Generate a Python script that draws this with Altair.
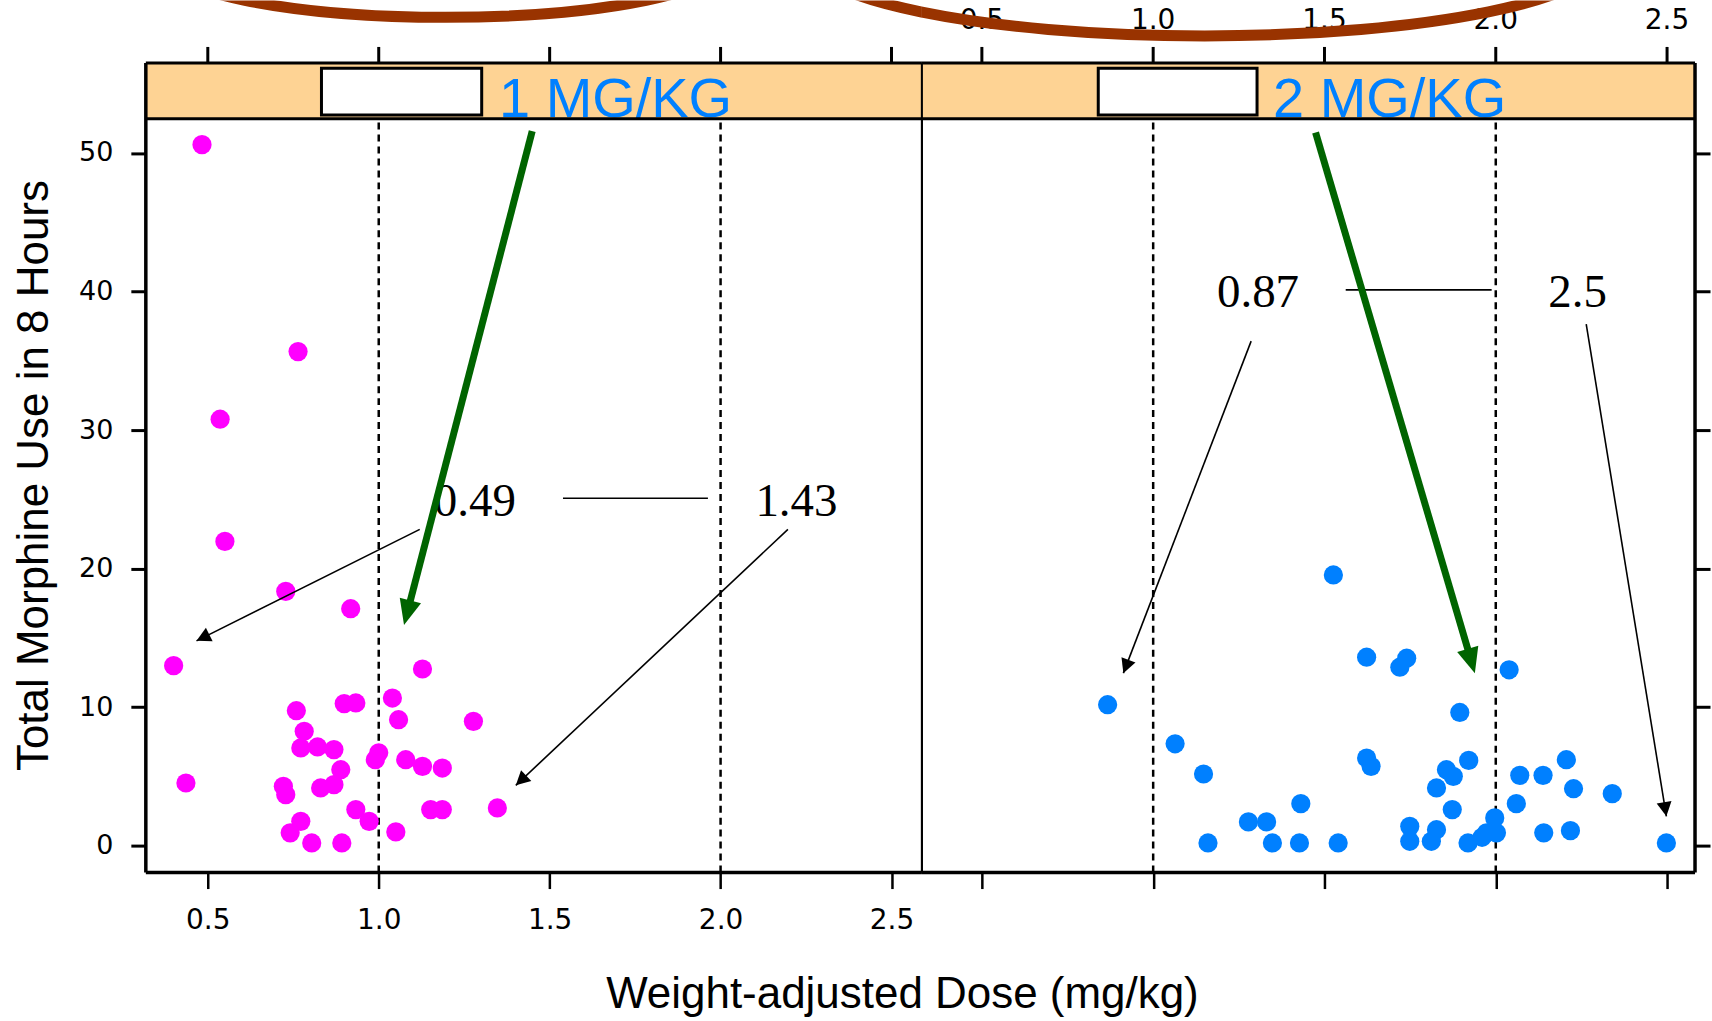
import math
import altair as alt
import pandas as pd

# ---------------- data ----------------
low_dose = [0.483, 0.764, 0.536, 0.550, 0.728, 0.918, 0.400, 1.128, 0.759, 0.899,
            0.933, 1.040, 1.058, 1.277, 0.782, 0.772, 0.821, 0.869, 1.000, 0.990,
            1.079, 1.128, 1.186, 0.436, 0.721, 0.728, 0.830, 0.869, 0.889, 1.347,
            1.152, 1.186, 0.933, 0.972, 0.772, 0.741, 0.804, 0.892, 1.050]
low_use = [50.6, 35.66, 30.78, 21.96, 18.35, 17.1, 12.99, 12.75, 9.74, 10.25,
           10.3, 10.65, 9.09, 8.97, 8.25, 7.05, 7.12, 6.93, 6.7, 6.2,
           6.2, 5.72, 5.6, 4.52, 4.28, 3.68, 4.16, 4.40, 5.48, 2.72,
           2.6, 2.6, 2.6, 1.75, 1.75, 0.92, 0.19, 0.19, 0.99]

high_dose = [0.867, 1.064, 1.147, 1.431, 1.278, 1.331, 1.160, 1.348, 1.427, 1.540,
             1.526, 1.623, 1.740, 1.720, 2.039, 1.895, 1.623, 1.636, 1.921, 1.856,
             1.876, 1.827, 1.873, 1.749, 1.749, 1.827, 1.812, 1.919, 1.997, 2.002,
             1.973, 1.960, 2.070, 2.138, 2.060, 2.206, 2.227, 2.340, 2.140, 2.218, 2.498]
high_use = [10.17, 7.35, 5.17, 3.03, 1.71, 1.71, 0.19, 0.19, 0.19, 0.19,
            19.54, 13.6, 13.53, 12.88, 12.69, 9.61, 6.32, 5.72, 6.15, 5.48,
            5.0, 4.16, 2.6, 1.39, 0.31, 1.15, 0.31, 0.19, 2.0, 0.92,
            0.92, 0.6, 5.07, 5.07, 3.03, 6.2, 4.11, 3.75, 0.92, 1.08, 0.19]

panel_labels = ["1 MG/KG", "2 MG/KG"]
x_ticks = [0.5, 1.0, 1.5, 2.0, 2.5]
x_tick_text = ["0.5", "1.0", "1.5", "2.0", "2.5"]
y_ticks = [0, 10, 20, 30, 40, 50]
ref_lines = [1.0, 2.0]

# annotations (data coordinates)
left_notes = ["0.49", "1.43"]
left_note_x = [1.281, 2.222]
left_note_y = [23.81, 23.81]
left_hline = [1.539, 1.963, 25.07]
left_arrow_start = [(1.120, 22.83), (2.197, 22.83)]
left_arrow_end = [(0.467, 14.78), (1.401, 4.35)]
left_green = [(1.449, 51.57), (1.074, 15.93)]

right_notes = ["0.87", "2.5"]
right_note_x = [1.306, 2.239]
right_note_y = [38.85, 38.85]
right_hline = [1.562, 1.988, 40.12]
right_arrow_start = [(1.286, 36.42), (2.264, 37.64)]
right_arrow_end = [(0.913, 12.45), (2.498, 2.11)]
right_green = [(1.474, 51.47), (1.939, 12.45)]

# ---------------- layout / style ----------------
Y_DOMAIN = [-1.947, 61.0]
H = 873
PLOT_TOP = 52.47
STRIP_TOP = 56.50
XDOM_L = [0.3187, 2.589]
W_L = 777
XDOM_R = [0.325, 2.5816]
W_R = 774
KY = H / (Y_DOMAIN[1] - Y_DOMAIN[0])

PINK = "#FF00FF"
BLUE = "#0080FF"
STRIP = "#FED394"
GREEN = "#006400"
BROWN = "#993300"

THIN_HEAD = "M0,0 L-0.5,0.95 L0.5,0.95 Z"
GREEN_HEAD = "M0,0 L-0.5,1.15 L0.5,1.15 Z"


def ellipse_path(k):
    c = 0.5523
    return (f"M-1,0 C-1,{-c*k:.4f} {-c:.4f},{-k:.4f} 0,{-k:.4f} "
            f"C{c:.4f},{-k:.4f} 1,{-c*k:.4f} 1,0 "
            f"C1,{c*k:.4f} {c:.4f},{k:.4f} 0,{k:.4f} "
            f"C{-c:.4f},{k:.4f} -1,{c*k:.4f} -1,0 Z")


ELLIPSE = ellipse_path(0.205)


def make_panel(side):
    left = side == "left"
    xdom = XDOM_L if left else XDOM_R
    width = W_L if left else W_R
    kx = width / (xdom[1] - xdom[0])
    xs = alt.Scale(domain=xdom, nice=False, zero=False)
    ys = alt.Scale(domain=Y_DOMAIN, nice=False, zero=False)

    if left:
        xaxis = alt.Axis(orient="bottom", values=x_ticks, format=".1f", domain=False, grid=False,
                         tickSize=16, tickWidth=2.5, tickColor="black",
                         labelFont="DejaVu Sans", labelFontSize=28, labelColor="black",
                         labelPadding=18, labelFlush=False,
                         title="Weight-adjusted Dose (mg/kg)", titleFont="Liberation Sans",
                         titleFontSize=44, titleFontWeight="normal", titleColor="black",
                         titleX=757, titleY=135, titleAlign="center", titleBaseline="alphabetic")
        yaxis = alt.Axis(orient="left", values=y_ticks, domain=False, grid=False,
                         tickSize=15, tickWidth=3, tickColor="black",
                         labelFont="DejaVu Sans", labelFontSize=27, labelColor="black",
                         labelPadding=18,
                         title="Total Morphine Use in 8 Hours", titleFont="Liberation Sans",
                         titleFontSize=44, titleFontWeight="normal", titleColor="black",
                         titleAngle=270, titleX=-98, titleY=475, titleAlign="center",
                         titleBaseline="alphabetic")
    else:
        xaxis = alt.Axis(orient="bottom", values=x_ticks, domain=False, grid=False,
                         tickSize=16, tickWidth=2.5, tickColor="black", labels=False, title=None)
        yaxis = alt.Axis(orient="right", values=y_ticks, domain=False, grid=False,
                         tickSize=15, tickWidth=3, tickColor="black", labels=False, title=None)

    def ex(f):
        return alt.X(f"{f}:Q", scale=xs, axis=xaxis)

    def ey(f):
        return alt.Y(f"{f}:Q", scale=ys, axis=yaxis)

    dose = low_dose if left else high_dose
    use = low_use if left else high_use
    color = PINK if left else BLUE
    notes, nx, ny = (left_notes, left_note_x, left_note_y) if left else (right_notes, right_note_x, right_note_y)
    hline = left_hline if left else right_hline
    a_start = left_arrow_start if left else right_arrow_start
    a_end = left_arrow_end if left else right_arrow_end
    green = left_green if left else right_green

    layers = []

    # strip background
    layers.append(alt.Chart(pd.DataFrame({"x": [xdom[0]], "x2": [xdom[1]], "y": [PLOT_TOP], "y2": [STRIP_TOP]}))
                  .mark_rect(color=STRIP).encode(x=ex("x"), x2="x2", y=ey("y"), y2="y2"))

    # dashed reference lines
    layers.append(alt.Chart(pd.DataFrame({"x": ref_lines, "y": [Y_DOMAIN[0]] * 2, "y2": [PLOT_TOP] * 2}))
                  .mark_rule(strokeDash=[7, 5], strokeWidth=2.5, color="black")
                  .encode(x=ex("x"), y=ey("y"), y2="y2"))

    # points
    layers.append(alt.Chart(pd.DataFrame({"x": dose, "y": use}))
                  .mark_circle(size=370, color=color, opacity=1)
                  .encode(x=ex("x"), y=ey("y")))

    # annotation numbers and connecting line
    layers.append(alt.Chart(pd.DataFrame({"x": nx, "y": ny, "t": notes}))
                  .mark_text(font="Liberation Serif", fontSize=47, baseline="alphabetic",
                             align="center", color="black")
                  .encode(x=ex("x"), y=ey("y"), text="t:N"))
    layers.append(alt.Chart(pd.DataFrame({"x": [hline[0]], "x2": [hline[1]], "y": [hline[2]]}))
                  .mark_rule(strokeWidth=1.6, color="black")
                  .encode(x=ex("x"), x2="x2", y=ey("y")))

    # thin arrows
    rows = []
    for (xs0, ys0), (xe, ye) in zip(a_start, a_end):
        ang = (math.degrees(math.atan2((xe - xs0) * kx, (ye - ys0) * KY)) + 360) % 360
        rows.append({"x": xs0, "y": ys0, "x2": xe, "y2": ye, "angle": ang})
    adf = pd.DataFrame(rows)
    layers.append(alt.Chart(adf).mark_rule(strokeWidth=1.6, color="black")
                  .encode(x=ex("x"), y=ey("y"), x2="x2", y2="y2"))
    layers.append(alt.Chart(adf).mark_point(shape=THIN_HEAD, size=900, filled=True, color="black",
                                            opacity=1, strokeWidth=0)
                  .encode(x=ex("x2"), y=ey("y2"), angle=alt.Angle("angle:Q", scale=None)))

    # green arrow
    (gx0, gy0), (gx1, gy1) = green
    dxp, dyp = (gx1 - gx0) * kx, (gy1 - gy0) * KY
    L = math.hypot(dxp, dyp)
    s = 20.0 / L
    gang = (math.degrees(math.atan2(dxp, dyp)) + 360) % 360
    gdf = pd.DataFrame({"x": [gx0], "y": [gy0], "x2": [gx1 - (gx1 - gx0) * s], "y2": [gy1 - (gy1 - gy0) * s],
                        "hx": [gx1], "hy": [gy1], "angle": [gang]})
    layers.append(alt.Chart(gdf).mark_rule(strokeWidth=7, color=GREEN)
                  .encode(x=ex("x"), y=ey("y"), x2="x2", y2="y2"))
    layers.append(alt.Chart(gdf).mark_point(shape=GREEN_HEAD, size=1936, filled=True, color=GREEN,
                                            opacity=1, strokeWidth=0)
                  .encode(x=ex("hx"), y=ey("hy"), angle=alt.Angle("angle:Q", scale=None)))

    # strip white box and label
    bx = [0.8325, 1.3012] if left else [0.8397, 1.3032]
    layers.append(alt.Chart(pd.DataFrame({"x": [bx[0]], "x2": [bx[1]], "y": [52.75], "y2": [56.11]}))
                  .mark_rect(fill="white", stroke="black", strokeWidth=3)
                  .encode(x=ex("x"), x2="x2", y=ey("y"), y2="y2"))
    lx = 1.352 if left else 1.350
    layers.append(alt.Chart(pd.DataFrame({"x": [lx], "y": [52.58], "t": [panel_labels[0 if left else 1]]}))
                  .mark_text(font="Liberation Sans", fontSize=56, color=BLUE, align="left",
                             baseline="alphabetic")
                  .encode(x=ex("x"), y=ey("y"), text="t:N"))

    # frame
    y0 = Y_DOMAIN[0]
    outer_x = xdom[0] if left else xdom[1]
    inner_x = xdom[1] if left else xdom[0]
    frame = pd.DataFrame({
        "x": [outer_x, inner_x, xdom[0], xdom[0], xdom[0]],
        "x2": [outer_x, inner_x, xdom[1], xdom[1], xdom[1]],
        "y": [y0, y0, y0, PLOT_TOP, STRIP_TOP],
        "y2": [STRIP_TOP, STRIP_TOP, y0, PLOT_TOP, STRIP_TOP],
        "w": [3.5, 2.0, 3.5, 3.0, 3.0],
    })
    layers.append(alt.Chart(frame).mark_rule(color="black")
                  .encode(x=ex("x"), x2="x2", y=ey("y"), y2="y2",
                          strokeWidth=alt.StrokeWidth("w:Q", scale=None)))

    # top ticks
    layers.append(alt.Chart(pd.DataFrame({"x": x_ticks, "y": [STRIP_TOP] * 5, "y2": [STRIP_TOP + 16 / KY] * 5}))
                  .mark_rule(strokeWidth=3, color="black")
                  .encode(x=ex("x"), y=ey("y"), y2="y2"))
    if not left:
        layers.append(alt.Chart(pd.DataFrame({"x": x_ticks, "y": [59.55] * 5, "t": x_tick_text}))
                      .mark_text(font="DejaVu Sans", fontSize=28, baseline="middle", align="center",
                                 color="black")
                      .encode(x=ex("x"), y=ey("y"), text="t:N"))

    # brown ellipses
    if left:
        edf = pd.DataFrame({"x": [1.1953, 3.416], "y": [63.99, 64.39], "s": [568 ** 2, 804 ** 2]})
    else:
        edf = pd.DataFrame({"x": [1.150], "y": [64.39], "s": [804 ** 2]})
    layers.append(alt.Chart(edf).mark_point(shape=ELLIPSE, filled=False, stroke=BROWN, color=BROWN,
                                            strokeWidth=11, opacity=1, clip=True)
                  .encode(x=ex("x"), y=ey("y"), size=alt.Size("s:Q", scale=None)))

    return alt.layer(*layers).properties(width=width, height=H)


chart = (alt.hconcat(make_panel("left"), make_panel("right"), spacing=0, bounds="flush")
         .properties(padding={"left": 12, "top": 0, "right": 0, "bottom": 0}, background="white")
         .configure_view(strokeWidth=0))

chart.save("out.html", embed_options={"renderer": "svg", "actions": False})
